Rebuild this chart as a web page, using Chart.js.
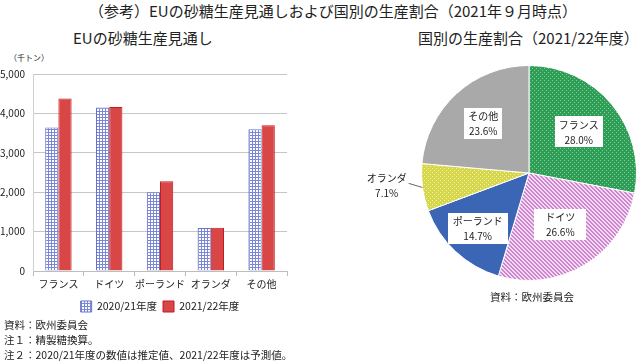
<!DOCTYPE html>
<html lang="ja">
<head>
<meta charset="utf-8">
<script src="https://cdn.jsdelivr.net/npm/chart.js@4.4.1/dist/chart.umd.min.js"></script>
<style>
  body { margin: 0; background: #fff; font-family: "Noto Sans CJK JP", sans-serif; color: #222; }
  #page { position: relative; width: 640px; height: 363px; overflow: hidden; }
  .txt { position: absolute; white-space: nowrap; line-height: 1; }
  .title { font-size: 15px; }
  .note { font-size: 10.5px; left: 4px; }
  #barWrap { position: absolute; left: 0; top: 60px; width: 300px; height: 262px; }
  #pieWrap { position: absolute; left: 330px; top: 50px; width: 310px; height: 250px; }
</style>
</head>
<body>
<div id="page">
  <div class="txt title" style="left:0;width:666px;text-align:center;top:3px;">（参考）EUの砂糖生産見通しおよび国別の生産割合（2021年９月時点）</div>
  <div class="txt title" style="left:73px;top:30px;">EUの砂糖生産見通し</div>
  <div class="txt title" style="left:418px;top:30px;">国別の生産割合（2021/22年度）</div>
  <div class="txt" style="left:9px;top:54px;font-size:8px;">（千トン）</div>
  <div id="barWrap"><canvas id="barChart"></canvas></div>
  <div id="pieWrap"><canvas id="pieChart"></canvas></div>
  <div class="txt" style="left:490px;top:292px;font-size:10.5px;">資料：欧州委員会</div>
  <div class="txt note" style="top:320px;">資料：欧州委員会</div>
  <div class="txt note" style="top:335px;">注１：精製糖換算。</div>
  <div class="txt note" style="top:350px;">注２：2020/21年度の数値は推定値、2021/22年度は予測値。</div>
</div>
<script>
document.addEventListener('DOMContentLoaded', () => {
    // bar chart data (千トン)
    const countries = ['フランス', 'ドイツ', 'ポーランド', 'オランダ', 'その他'];
    const seriesNames = ['2020/21年度', '2021/22年度'];
    const prod2020 = [3640, 4150, 2000, 1090, 3600];
    const prod2021 = [4380, 4160, 2280, 1100, 3700];
    const yTicks = [0, 1000, 2000, 3000, 4000, 5000];

    // pie chart data (2021/22年度, %)
    const shareLabels = ['フランス', 'ドイツ', 'ポーランド', 'オランダ', 'その他'];
    const shareValues = [28.0, 26.6, 14.7, 7.1, 23.6];

    const FONT = '"Noto Sans CJK JP", sans-serif';
    Chart.defaults.font.family = FONT;
    Chart.defaults.color = '#222';

    function makePattern(size, bg, fg, pts) {
        const c = document.createElement('canvas');
        c.width = size;
        c.height = size;
        const x = c.getContext('2d');
        x.fillStyle = bg;
        x.fillRect(0, 0, size, size);
        x.fillStyle = fg;
        pts.forEach(p => x.fillRect(p[0], p[1], p[2] || 1, p[3] || 1));
        return x.createPattern(c, 'repeat');
    }

    const blueGrid = makePattern(3, '#ffffff', '#7a86d6', [[0, 0, 3, 1], [0, 0, 1, 3]]);
    const greenDots = makePattern(4, '#2e9d55', '#86cc98', [[0, 0], [2, 2]]);
    const pinkDiag = makePattern(4, '#f3dcf3', '#cc84cc', [[0, 0], [1, 1], [2, 2], [3, 3], [1, 0], [2, 1], [3, 2], [0, 3]]);
    const yellowDots = makePattern(4, '#d6d64a', '#f4f4b8', [[0, 0], [2, 2]]);

    new Chart(document.getElementById('barChart'), {
        type: 'bar',
        data: {
            labels: countries,
            datasets: [{
                label: seriesNames[0],
                data: prod2020,
                backgroundColor: blueGrid,
                borderColor: '#6572cc',
                borderWidth: 1,
                categoryPercentage: 0.52,
                barPercentage: 1.0
            }, {
                label: seriesNames[1],
                data: prod2021,
                backgroundColor: '#d84646',
                borderColor: '#c41a22',
                borderWidth: 1,
                categoryPercentage: 0.52,
                barPercentage: 1.0
            }]
        },
        options: {
            responsive: true,
            maintainAspectRatio: false,
            animation: false,
            layout: { padding: { top: 13, right: 13, left: 0, bottom: 0 } },
            plugins: {
                tooltip: { enabled: false },
                legend: {
                    position: 'bottom',
                    fullSize: false,
                    labels: {
                        boxWidth: 11,
                        boxHeight: 11,
                        padding: 6,
                        font: { size: 10.5, family: FONT },
                        color: '#222'
                    }
                }
            },
            scales: {
                x: {
                    grid: { offset: true, drawOnChartArea: false, drawTicks: true, tickLength: 5, color: '#bdbdbd' },
                    border: { display: true, color: '#bdbdbd' },
                    ticks: { font: { size: 10, family: FONT }, color: '#222', padding: 2, maxRotation: 0, autoSkip: false },
                    afterFit: s => { s.height = 24; }
                },
                y: {
                    min: 0,
                    max: 5000,
                    afterBuildTicks: s => { s.ticks = yTicks.map(v => ({ value: v })); },
                    grid: { color: '#c6c6c6', drawTicks: false },
                    border: { display: true, color: '#d0d0d0' },
                    ticks: {
                        font: { size: 10, family: FONT },
                        color: '#222',
                        padding: 8,
                        callback: v => v.toLocaleString('en-US')
                    },
                    afterFit: s => { s.width = 33; }
                }
            }
        }
    });

    // boxed labels inside the slices, leader line for the small one
    const sliceLabels = {
        id: 'sliceLabels',
        afterDatasetsDraw(chart, args, opts) {
            const ctx = chart.ctx;
            const arcs = chart.getDatasetMeta(0).data;
            ctx.save();
            ctx.font = '10px ' + FONT;
            ctx.textAlign = 'center';
            ctx.textBaseline = 'middle';
            arcs.forEach((arc, i) => {
                const mid = (arc.startAngle + arc.endAngle) / 2;
                const cx = arc.x, cy = arc.y, r = arc.outerRadius;
                const name = shareLabels[i];
                const pct = shareValues[i].toFixed(1) + '%';
                const f = opts.factors[i];
                if (f === null) {
                    const p0x = cx + Math.cos(mid) * r, p0y = cy + Math.sin(mid) * r;
                    const p1x = cx + Math.cos(mid) * r * 1.13, p1y = cy + Math.sin(mid) * r * 1.13 - 6;
                    ctx.strokeStyle = '#666';
                    ctx.lineWidth = 1;
                    ctx.beginPath();
                    ctx.moveTo(p0x, p0y);
                    ctx.lineTo(p1x, p1y);
                    ctx.stroke();
                    ctx.fillStyle = '#222';
                    ctx.fillText(name, p1x - 22, p1y - 5);
                    ctx.fillText(pct, p1x - 22, p1y + 10);
                    return;
                }
                const lx = cx + Math.cos(mid) * r * f;
                const ly = cy + Math.sin(mid) * r * f;
                const w = Math.max(ctx.measureText(name).width, ctx.measureText(pct).width) + opts.padX[i];
                const h = 31;
                ctx.fillStyle = '#fff';
                ctx.fillRect(Math.round(lx - w / 2), Math.round(ly - h / 2), Math.round(w), h);
                ctx.fillStyle = '#222';
                ctx.fillText(name, lx, ly - 7);
                ctx.fillText(pct, lx, ly + 8);
            });
            ctx.restore();
        }
    };

    new Chart(document.getElementById('pieChart'), {
        type: 'pie',
        data: {
            labels: shareLabels,
            datasets: [{
                data: shareValues,
                backgroundColor: [greenDots, pinkDiag, '#3b66b6', yellowDots, '#a9a9a9'],
                borderColor: '#ffffff',
                borderWidth: 1
            }]
        },
        options: {
            responsive: true,
            maintainAspectRatio: false,
            animation: false,
            layout: { padding: { left: 91, right: 3, top: 15, bottom: 19 } },
            plugins: {
                legend: { display: false },
                tooltip: { enabled: false },
                sliceLabels: {
                    factors: [0.6, 0.56, 0.7, null, 0.63],
                    padX: [8, 22, 10, 8, 8]
                }
            }
        },
        plugins: [sliceLabels]
    });
});
</script>
</body>
</html>
